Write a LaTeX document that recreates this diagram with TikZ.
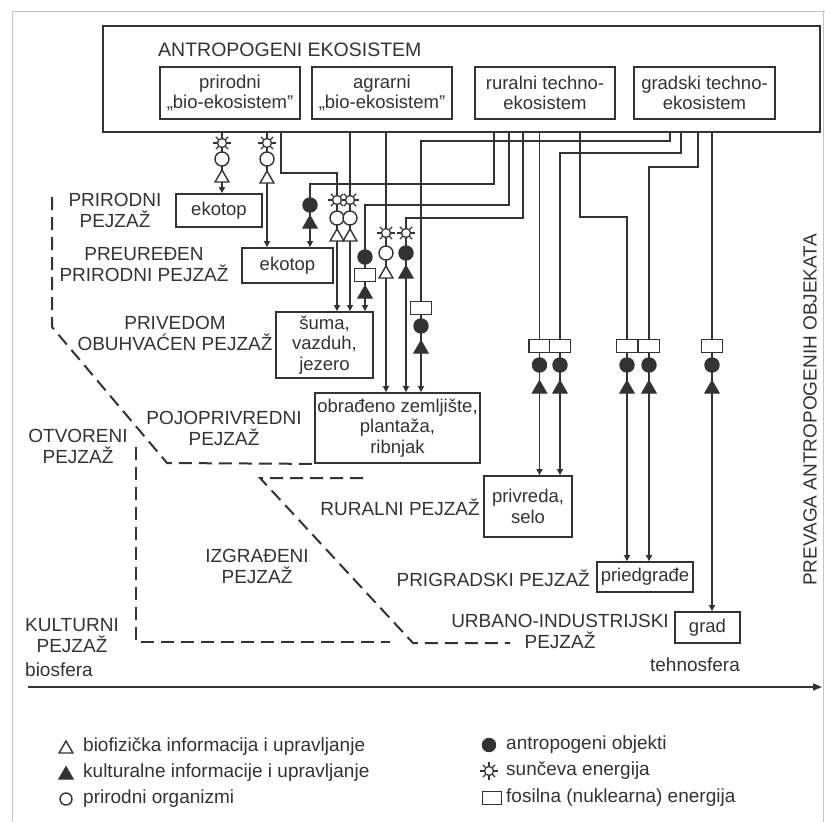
\documentclass[tikz,border=0pt]{standalone}
\usepackage{fontspec}
\setmainfont{Liberation Sans}
\usetikzlibrary{arrows.meta,positioning,shapes.geometric,backgrounds}
\definecolor{ink}{HTML}{333333}
\definecolor{rim}{HTML}{C4C4C4}
\newcommand{\dfont}{\fontsize{19}{21}\selectfont}
\newcommand{\bfontsz}{\fontsize{18.5}{20.5}\selectfont}
\tikzset{
  box/.style={draw=ink, fill=white, line width=1.8pt, align=center, inner sep=1pt,
              font=\bfontsz, text=ink},
  lbl/.style={align=center, inner sep=0pt, font=\dfont, text=ink},
  wire/.style={draw=ink, line width=1.6pt},
  arrow/.style={wire, -{Triangle[length=6pt,width=6pt]}},
  dashline/.style={draw=ink, line width=2pt, dash pattern=on 13pt off 7pt},
  sun/.style={circle, draw=ink, fill=white, line width=1.3pt, minimum size=9pt, inner sep=0pt},
  ray/.style={draw=ink, line width=1.3pt},
  wcirc/.style={circle, draw=ink, fill=white, line width=1.4pt, minimum size=14pt, inner sep=0pt},
  bcirc/.style={wcirc, fill=ink},
  wtri/.style={regular polygon, regular polygon sides=3, draw=ink, fill=white, line width=1.4pt,
               minimum size=16pt, inner sep=0pt},
  btri/.style={wtri, fill=ink},
  fosil/.style={rectangle, draw=ink, fill=white, line width=1.4pt, minimum width=21pt,
                minimum height=13pt, inner sep=0pt}
}

\begin{document}
\begin{tikzpicture}[x=1pt,y=-1pt]
  \useasboundingbox (0,0) rectangle (825,822);
  % screenshot rim
  \draw[rim, line width=1pt] (12,822) -- (12,11) -- (825,11);
  \draw[rim, line width=1pt] (823,11) -- (823,822);

  % anthropogenic ecosystem
  \node[box, minimum width=717pt, minimum height=106pt] (eco) at (461.5,79) {};
  \node[lbl, font=\fontsize{19.5}{21}\selectfont, anchor=west] (ecot) at (158,50) {ANTROPOGENI EKOSISTEM};
  \node[box, minimum width=140pt, minimum height=52pt] (bio1) at (230,93) {prirodni\\„bio-ekosistem"};
  \node[box, minimum width=140pt, minimum height=52pt] (bio2) at (382,93) {agrarni\\„bio-ekosistem"};
  \node[box, minimum width=140pt, minimum height=52pt] (teh1) at (545,93) {ruralni techno-\\ekosistem};
  \node[box, minimum width=141pt, minimum height=52pt] (teh2) at (704.5,93) {gradski techno-\\ekosistem};

  % landscape units
  \node[box, minimum width=86pt, minimum height=33pt] (eko1) at (219,210.5) {ekotop};
  \node[box, minimum width=91pt, minimum height=35pt] (eko2) at (287.5,265.5) {ekotop};
  \node[box, minimum width=97pt, minimum height=66pt] (suma) at (324.5,345) {šuma,\\vazduh,\\jezero};
  \node[box, minimum width=165pt, minimum height=70pt] (obr) at (397.5,428) {obrađeno zemljište,\\plantaža,\\ribnjak};
  \node[box, minimum width=88pt, minimum height=61pt] (selo) at (528,506.5) {privreda,\\selo};
  \node[box, minimum width=96pt, minimum height=30pt] (pried) at (645,577) {priedgrađe};
  \node[box, minimum width=65pt, minimum height=31pt] (grad) at (707.5,627.5) {grad};

  % landscape names
  \node[lbl] (lprir) at (115,210) {PRIRODNI\\PEJZAŽ};
  \node[lbl] (lpreu) at (144,265) {PREUREĐEN\\PRIRODNI PEJZAŽ};
  \node[lbl] (lpriv) at (175,333) {PRIVEDOM\\OBUHVAĆEN PEJZAŽ};
  \node[lbl] (lpojo) at (224,428) {POJOPRIVREDNI\\PEJZAŽ};
  \node[lbl] (lotv) at (78,446) {OTVORENI\\PEJZAŽ};
  \node[lbl, anchor=east] (lrur) at (480,507) {RURALNI PEJZAŽ};
  \node[lbl] (lizg) at (257,566) {IZGRAĐENI\\PEJZAŽ};
  \node[lbl, anchor=east] (lprig) at (590,578) {PRIGRADSKI PEJZAŽ};
  \node[lbl] (lurb) at (560,631) {URBANO-INDUSTRIJSKI\\PEJZAŽ};
  \node[lbl] (lkult) at (72,636) {KULTURNI\\PEJZAŽ};
  \node[lbl, anchor=west] (lbio) at (25,670) {biosfera};
  \node[lbl] (ltehn) at (695,665) {tehnosfera};
  \node[lbl, rotate=90] (lprev) at (810,410) {PREVAGA ANTROPOGENIH OBJEKATA};

  % dashed boundaries
  \draw[dashline] (52,197) -- (52,327) -- (167,463) -- (obr.south west);
  \draw[dashline] (136,447) -- (136,642) -- (390,642);
  \draw[dashline] (363,478) -- (260,478) -- (413,643) -- (510,643);

  % axis
  \coordinate (ax0) at (28,687);
  \coordinate (ax1) at (822,687);
  \draw[wire, -{Triangle[length=9pt,width=7pt]}] (ax0) -- (ax1);

  % symbol stacks
  \node[sun] (sA) at (222,143) {};
  \node[wcirc] (oA) at (222,159) {};
  \node[wtri] (tA) at (222,178) {};
  \node[sun] (sB) at (267,143) {};
  \node[wcirc] (oB) at (267,159) {};
  \node[wtri] (tB) at (267,179) {};
  \node[sun] (sC) at (337,200) {};
  \node[wcirc] (oC) at (337,218) {};
  \node[wtri] (tC) at (337,237) {};
  \node[sun] (sD) at (350,200) {};
  \node[wcirc] (oD) at (350,218) {};
  \node[wtri] (tD) at (350,237) {};
  \node[bcirc] (sE) at (310,205) {};
  \node[btri] (tE) at (310,224) {};
  \node[bcirc] (sF) at (365,257) {};
  \node[fosil] (fF) at (365,275) {};
  \node[btri] (tF) at (365,294) {};
  \node[sun] (sG) at (386,233) {};
  \node[wcirc] (oG) at (386,253) {};
  \node[wtri] (tG) at (386,274) {};
  \node[sun] (sH) at (406,233) {};
  \node[bcirc] (oH) at (406,253) {};
  \node[btri] (tH) at (406,274) {};
  \node[fosil] (sI) at (421,308) {};
  \node[bcirc] (oI) at (421,326) {};
  \node[btri] (tI) at (421,349) {};
  \foreach \n/\x in {J/539.5,K/560,L/627,M/649,N/712} {
    \node[fosil] (s\n) at (\x,346) {};
    \node[bcirc] (o\n) at (\x,365) {};
    \node[btri] (t\n) at (\x,389) {};
  }
  \foreach \s in {sA,sB,sC,sD,sG,sH}
    \foreach \a in {0,45,...,315} \draw[ray] (\s.\a) -- ++(\a:3.5pt);

  % wires from the ecosystems
  \coordinate (kC) at (281,173);
  \coordinate (kE) at (494,184);
  \coordinate (kF) at (509,205);
  \coordinate (kH) at (523,218);
  \coordinate (kI) at (670,141);
  \coordinate (kK) at (681,153);
  \coordinate (kL) at (580,217);
  \coordinate (kM) at (698,167);
  \begin{scope}[on background layer]
    \draw[arrow] (eco.south -| sA) -- (eko1.north -| sA);
    \draw[arrow] (eco.south -| sB) -- (eko2.north -| sB);
    \draw[arrow] (eco.south -| kC) -- (kC) -| (suma.north -| sC);
    \draw[arrow] (eco.south -| sD) -- (suma.north -| sD);
    \draw[arrow] (eco.south -| kE) -- (kE) -| (eko2.north -| sE);
    \draw[arrow] (eco.south -| kF) -- (kF) -| (suma.north -| sF);
    \draw[arrow] (eco.south -| sG) -- (obr.north -| sG);
    \draw[arrow] (eco.south -| kH) -- (kH) -| (obr.north -| sH);
    \draw[arrow] (eco.south -| kI) -- (kI) -| (obr.north -| sI);
    \draw[arrow] (eco.south -| sJ) -- (selo.north -| sJ);
    \draw[arrow] (eco.south -| kK) -- (kK) -| (selo.north -| sK);
    \draw[arrow] (eco.south -| kL) -- (kL) -| (pried.north -| sL);
    \draw[arrow] (eco.south -| kM) -- (kM) -| (pried.north -| sM);
    \draw[arrow] (eco.south -| sN) -- (grad.north -| sN);
  \end{scope}

  % legend
  \node[wtri] (kwt) at (66,749) {};
  \node[lbl, anchor=west] (kwtt) at (83,747) {biofizička informacija i upravljanje};
  \node[btri] (kbt) at (66,775) {};
  \node[lbl, anchor=west] (kbtt) at (83,773) {kulturalne informacije i upravljanje};
  \node[wcirc, minimum size=12pt] (kwc) at (66,799) {};
  \node[lbl, anchor=west] (kwct) at (83,799) {prirodni organizmi};
  \node[bcirc, minimum size=13pt] (kbc) at (489,745) {};
  \node[lbl, anchor=west] (kbct) at (506,745) {antropogeni objekti};
  \node[sun] (ksun) at (489,771) {};
  \foreach \a in {0,45,...,315} \draw[ray] (ksun.\a) -- ++(\a:3.5pt);
  \node[lbl, anchor=west] (ksunt) at (506,771) {sunčeva energija};
  \node[fosil, minimum width=19pt] (kfos) at (492,798) {};
  \node[lbl, anchor=west] (kfost) at (506,798) {fosilna (nuklearna) energija};
\end{tikzpicture}
\end{document}
